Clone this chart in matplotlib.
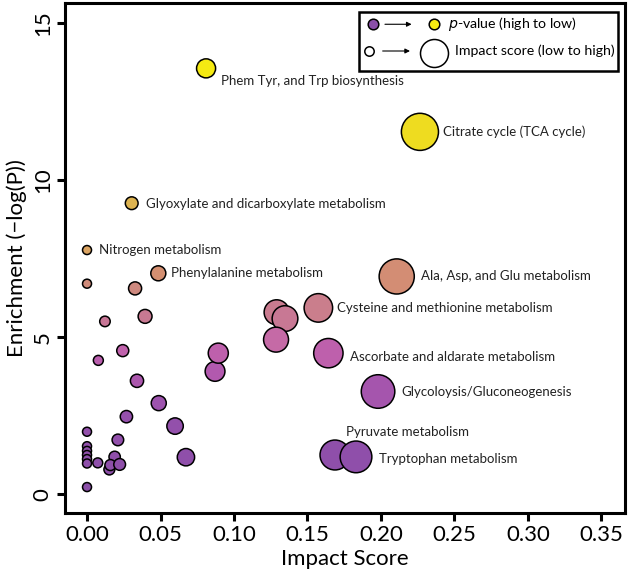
import matplotlib
matplotlib.use('Agg')

import matplotlib.pyplot as plt
import numpy as np
from matplotlib.colors import LinearSegmentedColormap, Normalize

plt.rcParams['font.family'] = ['Lato', 'DejaVu Sans']

# impact score (x) and enrichment -log(P) (y) for each pathway
impact = [0.081, 0.2265, 0.0304, 0.0, 0.0485, 0.2107, 0.0, 0.0327, 0.0122, 0.0395,
          0.129, 0.1347, 0.1574, 0.1286, 0.0871, 0.0893, 0.1642, 0.0243, 0.0077, 0.034,
          0.0488, 0.0268, 0.0599, 0.0673, 0.198, 0.1687, 0.183,
          0.0, 0.0, 0.0, 0.0, 0.0, 0.0, 0.0073, 0.021, 0.0188, 0.0152, 0.0159, 0.0222, 0.0]
enrichment = [13.55, 11.53, 9.26, 7.77, 7.03, 6.93, 6.70, 6.55, 5.50, 5.66,
              5.79, 5.59, 5.93, 4.92, 3.91, 4.49, 4.49, 4.57, 4.26, 3.61,
              2.90, 2.47, 2.17, 1.18, 3.27, 1.25, 1.19,
              1.99, 1.53, 1.38, 1.25, 1.12, 0.98, 1.00, 1.73, 1.19, 0.79, 0.93, 0.95, 0.23]

labels = {
    0: 'Phem Tyr, and Trp biosynthesis',
    1: 'Citrate cycle (TCA cycle)',
    2: 'Glyoxylate and dicarboxylate metabolism',
    3: 'Nitrogen metabolism',
    4: 'Phenylalanine metabolism',
    5: 'Ala, Asp, and Glu metabolism',
    12: 'Cysteine and methionine metabolism',
    16: 'Ascorbate and aldarate metabolism',
    24: 'Glycoloysis/Gluconeogenesis',
    25: 'Pyruvate metabolism',
    26: 'Tryptophan metabolism',
}
# label offsets in pixels from the point
offsets = {
    0: (15, -13), 1: (23, 0), 2: (14, -1), 3: (12, 0), 4: (13, 0), 5: (24, 0),
    12: (19, 0), 16: (22, -4), 24: (23, 0), 25: (11, 23), 26: (23, -2),
}

xticks = [0.00, 0.05, 0.10, 0.15, 0.20, 0.25, 0.30, 0.35]
yticks = [0, 5, 10, 15]

stops = [0.0, 2.5, 4.0, 4.6, 5.0, 5.8, 6.6, 7.0, 7.8, 9.3, 11.5, 13.6]
stop_colors = ['#8A4FA8', '#9550AC', '#B45AAE', '#C062AC', '#C66CA4', '#C97C8E',
               '#CE8A7E', '#D48E72', '#DBA462', '#DDB350', '#EEDC20', '#F5EA12']
cmap = LinearSegmentedColormap.from_list(
    'pv', list(zip(np.array(stops) / stops[-1], stop_colors)))
norm = Normalize(0, stops[-1])

x = np.array(impact)
y = np.array(enrichment)
radius_px = 4.5 + 62 * x
sizes = (2 * radius_px * 0.72) ** 2

fig = plt.figure(figsize=(6.29, 5.76), dpi=100)
ax = fig.add_axes([0.1033, 0.1102, 0.8903, 0.8841])

ax.scatter(x, y, s=sizes, c=y, cmap=cmap, norm=norm,
           edgecolors='black', linewidths=1.1, zorder=3)

for i, txt in labels.items():
    ax.annotate(txt, (x[i], y[i]), xytext=offsets[i], textcoords='offset pixels',
                ha='left', va='center', fontsize=9.5, color='#222222')

ax.set_xlim(-0.015, 0.366)
ax.set_ylim(-0.58, 15.62)
ax.set_xticks(xticks)
ax.set_xticklabels(['%.2f' % t for t in xticks])
ax.set_yticks(yticks)
ax.set_yticklabels([str(t) for t in yticks], rotation=90, va='center')
ax.tick_params(direction='out', length=5.8, width=2.2, labelsize=16, pad=3)
for sp in ax.spines.values():
    sp.set_linewidth(2.2)

ax.set_xlabel('Impact Score', fontsize=16, labelpad=3)
ax.set_ylabel('Enrichment (\u2212log(P))', fontsize=16, labelpad=4)

# legend box
ax.add_patch(plt.Rectangle((0.5255, 0.8676), 0.4625, 0.1159, transform=ax.transAxes,
                           fill=False, edgecolor='black', linewidth=1.8, zorder=4))
r1, r2 = 0.9588, 0.9063
ax.scatter([0.5495], [r1], s=(2 * 5.3 * 0.72) ** 2, color=cmap(0.0), edgecolors='black',
           linewidths=1.1, transform=ax.transAxes, zorder=5, clip_on=False)
ax.scatter([0.6589], [r1], s=(2 * 5.3 * 0.72) ** 2, color=cmap(1.0), edgecolors='black',
           linewidths=1.1, transform=ax.transAxes, zorder=5, clip_on=False)
ax.scatter([0.5434], [r2], s=(2 * 4.7 * 0.72) ** 2, color='white', edgecolors='black',
           linewidths=1.1, transform=ax.transAxes, zorder=5, clip_on=False)
ax.scatter([0.6595], [r2 - 0.004], s=(2 * 14 * 0.72) ** 2, color='white', edgecolors='black',
           linewidths=1.1, transform=ax.transAxes, zorder=5, clip_on=False)
for y0, xa, xb in [(r1, 0.5714, 0.619), (r2, 0.5673, 0.6161)]:
    ax.annotate('', xy=(xb, y0), xytext=(xa, y0), xycoords='axes fraction',
                arrowprops=dict(arrowstyle='-|>', color='black', lw=0.8,
                                mutation_scale=7, shrinkA=0, shrinkB=0))
ax.text(0.6845, r1, '$\\it{p}$-value (high to low)', transform=ax.transAxes,
        ha='left', va='center', fontsize=10.2)
ax.text(0.6964, r2, 'Impact score (low to high)', transform=ax.transAxes,
        ha='left', va='center', fontsize=10.2)

fig.savefig('out.png', dpi=100)
